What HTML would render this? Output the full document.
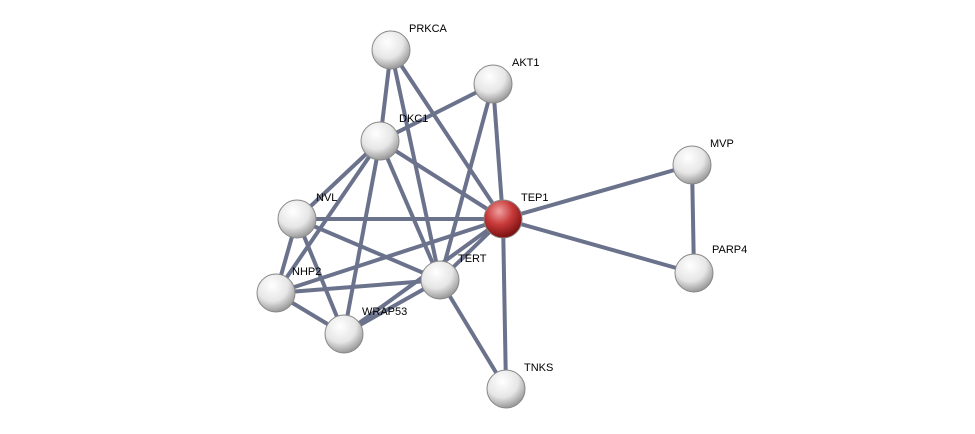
<!DOCTYPE html>
<html><head><style>body{margin:0;background:#fff}svg{display:block}text{font-family:"Liberation Sans",sans-serif;font-size:11px;fill:#000}</style></head><body>
<svg width="975" height="434" viewBox="0 0 975 434">
<defs>
<radialGradient id="g" cx="40%" cy="30%" r="70%"><stop offset="0" stop-color="#fff"/><stop offset="0.6" stop-color="#e6e6e6"/><stop offset="1" stop-color="#9a9a9a"/></radialGradient>
<radialGradient id="r" cx="40%" cy="30%" r="70%"><stop offset="0" stop-color="#f0a0a0"/><stop offset="0.5" stop-color="#c83a3a"/><stop offset="1" stop-color="#7a1010"/></radialGradient>
</defs>
<g stroke="#5c6380" stroke-width="4" opacity="0.9">
<line x1="391" y1="50" x2="380" y2="141"/><line x1="391" y1="50" x2="503" y2="219"/><line x1="391" y1="50" x2="440" y2="280"/>
<line x1="493" y1="84" x2="380" y2="141"/><line x1="493" y1="84" x2="503" y2="219"/><line x1="493" y1="84" x2="440" y2="280"/>
<line x1="380" y1="141" x2="503" y2="219"/><line x1="380" y1="141" x2="440" y2="280"/><line x1="380" y1="141" x2="297" y2="219"/><line x1="380" y1="141" x2="276" y2="293"/><line x1="380" y1="141" x2="344" y2="334"/>
<line x1="297" y1="219" x2="503" y2="219"/><line x1="297" y1="219" x2="440" y2="280"/><line x1="297" y1="219" x2="276" y2="293"/><line x1="297" y1="219" x2="344" y2="334"/>
<line x1="503" y1="219" x2="692" y2="165"/><line x1="503" y1="219" x2="694" y2="273"/><line x1="503" y1="219" x2="440" y2="280"/><line x1="503" y1="219" x2="506" y2="389"/><line x1="503" y1="219" x2="276" y2="293"/><line x1="503" y1="219" x2="344" y2="334"/>
<line x1="692" y1="165" x2="694" y2="273"/>
<line x1="440" y1="280" x2="276" y2="293"/><line x1="440" y1="280" x2="344" y2="334"/><line x1="440" y1="280" x2="506" y2="389"/>
<line x1="276" y1="293" x2="344" y2="334"/>
</g>
<g stroke="#888" stroke-width="1">
<circle cx="391" cy="50" r="19" fill="url(#g)"/><circle cx="493" cy="84" r="19" fill="url(#g)"/><circle cx="380" cy="141" r="19" fill="url(#g)"/><circle cx="692" cy="165" r="19" fill="url(#g)"/><circle cx="297" cy="219" r="19" fill="url(#g)"/><circle cx="503" cy="219" r="19" fill="url(#r)"/><circle cx="694" cy="273" r="19" fill="url(#g)"/><circle cx="440" cy="280" r="19" fill="url(#g)"/><circle cx="276" cy="293" r="19" fill="url(#g)"/><circle cx="344" cy="334" r="19" fill="url(#g)"/><circle cx="506" cy="389" r="19" fill="url(#g)"/>
</g>
<text x="409" y="32">PRKCA</text><text x="512" y="66">AKT1</text><text x="399" y="122">DKC1</text><text x="710" y="147">MVP</text><text x="316" y="201">NVL</text><text x="521" y="201">TEP1</text><text x="712" y="253">PARP4</text><text x="458" y="262">TERT</text><text x="292" y="275">NHP2</text><text x="362" y="315">WRAP53</text><text x="524" y="371">TNKS</text>
</svg>
</body></html>
